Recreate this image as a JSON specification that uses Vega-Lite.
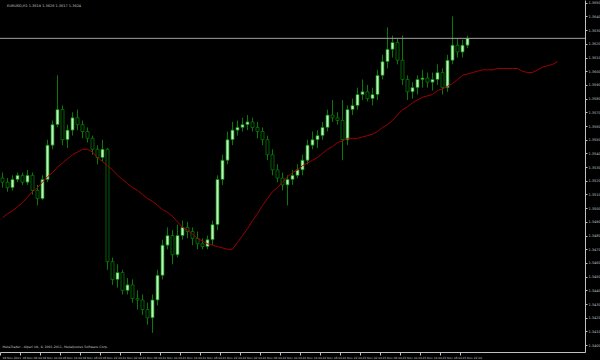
{
"$schema": "https://vega.github.io/schema/vega-lite/v6.json",
"width": 585, "height": 352,
"autosize": {"type": "none"},
"padding": {"left": 0, "top": 0, "right": 15, "bottom": 8},
"background": "#000000",
"config": {"view": {"stroke": null}, "font": "DejaVu Sans", "axis": {"labelOverlap": false, "labelBound": false, "labelFlush": false, "grid": false}},
"title": {"text": "EURUSD,H1  1.3619 1.3626 1.3617 1.3624", "anchor": "start", "orient": "top", "offset": -7, "dx": 7, "fontSize": 3.5, "fontWeight": "normal", "color": "#c0c0c0", "frame": "group"},
"data": {"values": [
{"t":"18 Nov 02:00","o":1.3522,"h":1.3526,"l":1.3515,"c":1.3519,"ma":1.3493},
{"t":"18 Nov 03:00","o":1.3519,"h":1.3522,"l":1.3512,"c":1.3515,"ma":1.3496},
{"t":"18 Nov 04:00","o":1.3515,"h":1.3524,"l":1.3513,"c":1.3521,"ma":1.3498},
{"t":"18 Nov 05:00","o":1.3521,"h":1.3526,"l":1.3519,"c":1.3524,"ma":1.3501},
{"t":"18 Nov 06:00","o":1.3524,"h":1.3526,"l":1.3517,"c":1.3519,"ma":1.3504},
{"t":"18 Nov 07:00","o":1.3519,"h":1.3528,"l":1.3517,"c":1.3524,"ma":1.3508},
{"t":"18 Nov 08:00","o":1.3524,"h":1.3526,"l":1.3510,"c":1.3513,"ma":1.3512},
{"t":"18 Nov 09:00","o":1.3513,"h":1.3517,"l":1.3502,"c":1.3507,"ma":1.3515},
{"t":"18 Nov 10:00","o":1.3507,"h":1.3524,"l":1.3506,"c":1.3521,"ma":1.3519},
{"t":"18 Nov 11:00","o":1.3521,"h":1.3550,"l":1.3519,"c":1.3546,"ma":1.3523},
{"t":"18 Nov 12:00","o":1.3546,"h":1.3564,"l":1.3543,"c":1.3561,"ma":1.3526},
{"t":"18 Nov 13:00","o":1.3561,"h":1.3597,"l":1.3559,"c":1.3572,"ma":1.3530},
{"t":"18 Nov 14:00","o":1.3572,"h":1.3575,"l":1.3546,"c":1.3550,"ma":1.3533},
{"t":"18 Nov 15:00","o":1.3550,"h":1.3561,"l":1.3544,"c":1.3557,"ma":1.3536},
{"t":"18 Nov 16:00","o":1.3557,"h":1.3570,"l":1.3553,"c":1.3566,"ma":1.3539},
{"t":"18 Nov 17:00","o":1.3566,"h":1.3572,"l":1.3557,"c":1.3561,"ma":1.3541},
{"t":"18 Nov 18:00","o":1.3561,"h":1.3564,"l":1.3551,"c":1.3556,"ma":1.3543},
{"t":"18 Nov 19:00","o":1.3556,"h":1.3559,"l":1.3548,"c":1.3551,"ma":1.3543},
{"t":"18 Nov 20:00","o":1.3551,"h":1.3553,"l":1.3539,"c":1.3543,"ma":1.3541},
{"t":"18 Nov 21:00","o":1.3543,"h":1.3546,"l":1.3532,"c":1.3537,"ma":1.3537},
{"t":"18 Nov 22:00","o":1.3537,"h":1.3550,"l":1.3534,"c":1.3543,"ma":1.3534},
{"t":"18 Nov 23:00","o":1.3543,"h":1.3544,"l":1.3455,"c":1.3461,"ma":1.3531},
{"t":"21 Nov 00:00","o":1.3461,"h":1.3464,"l":1.3444,"c":1.3448,"ma":1.3528},
{"t":"21 Nov 01:00","o":1.3448,"h":1.3459,"l":1.3442,"c":1.3453,"ma":1.3524},
{"t":"21 Nov 02:00","o":1.3453,"h":1.3455,"l":1.3437,"c":1.3440,"ma":1.3521},
{"t":"21 Nov 03:00","o":1.3440,"h":1.3449,"l":1.3437,"c":1.3444,"ma":1.3518},
{"t":"21 Nov 04:00","o":1.3444,"h":1.3448,"l":1.3431,"c":1.3434,"ma":1.3515},
{"t":"21 Nov 05:00","o":1.3434,"h":1.3440,"l":1.3426,"c":1.3433,"ma":1.3513},
{"t":"21 Nov 06:00","o":1.3433,"h":1.3437,"l":1.3422,"c":1.3426,"ma":1.3510},
{"t":"21 Nov 07:00","o":1.3426,"h":1.3431,"l":1.3415,"c":1.3420,"ma":1.3507},
{"t":"21 Nov 08:00","o":1.3420,"h":1.3437,"l":1.3409,"c":1.3433,"ma":1.3505},
{"t":"21 Nov 09:00","o":1.3433,"h":1.3455,"l":1.3429,"c":1.3451,"ma":1.3502},
{"t":"21 Nov 10:00","o":1.3451,"h":1.3477,"l":1.3448,"c":1.3473,"ma":1.3499},
{"t":"21 Nov 11:00","o":1.3473,"h":1.3486,"l":1.3470,"c":1.3480,"ma":1.3497},
{"t":"21 Nov 12:00","o":1.3480,"h":1.3484,"l":1.3459,"c":1.3466,"ma":1.3494},
{"t":"21 Nov 13:00","o":1.3466,"h":1.3488,"l":1.3464,"c":1.3480,"ma":1.3490},
{"t":"21 Nov 14:00","o":1.3480,"h":1.3491,"l":1.3477,"c":1.3486,"ma":1.3486},
{"t":"21 Nov 15:00","o":1.3486,"h":1.3490,"l":1.3478,"c":1.3483,"ma":1.3484},
{"t":"21 Nov 16:00","o":1.3483,"h":1.3486,"l":1.3473,"c":1.3478,"ma":1.3481},
{"t":"21 Nov 17:00","o":1.3478,"h":1.3483,"l":1.3470,"c":1.3474,"ma":1.3478},
{"t":"21 Nov 18:00","o":1.3474,"h":1.3478,"l":1.3470,"c":1.3472,"ma":1.3476},
{"t":"21 Nov 19:00","o":1.3472,"h":1.3480,"l":1.3470,"c":1.3477,"ma":1.3474},
{"t":"21 Nov 20:00","o":1.3477,"h":1.3491,"l":1.3473,"c":1.3488,"ma":1.3473},
{"t":"21 Nov 21:00","o":1.3488,"h":1.3524,"l":1.3484,"c":1.3521,"ma":1.3472},
{"t":"21 Nov 22:00","o":1.3521,"h":1.3539,"l":1.3517,"c":1.3535,"ma":1.3471},
{"t":"21 Nov 23:00","o":1.3535,"h":1.3556,"l":1.3532,"c":1.3550,"ma":1.3470},
{"t":"22 Nov 00:00","o":1.3550,"h":1.3563,"l":1.3546,"c":1.3557,"ma":1.3470},
{"t":"22 Nov 01:00","o":1.3557,"h":1.3564,"l":1.3553,"c":1.3559,"ma":1.3475},
{"t":"22 Nov 02:00","o":1.3559,"h":1.3566,"l":1.3556,"c":1.3561,"ma":1.3480},
{"t":"22 Nov 03:00","o":1.3561,"h":1.3568,"l":1.3557,"c":1.3563,"ma":1.3485},
{"t":"22 Nov 04:00","o":1.3563,"h":1.3566,"l":1.3556,"c":1.3559,"ma":1.3491},
{"t":"22 Nov 05:00","o":1.3559,"h":1.3563,"l":1.3551,"c":1.3556,"ma":1.3496},
{"t":"22 Nov 06:00","o":1.3556,"h":1.3559,"l":1.3546,"c":1.3550,"ma":1.3502},
{"t":"22 Nov 07:00","o":1.3550,"h":1.3553,"l":1.3535,"c":1.3539,"ma":1.3507},
{"t":"22 Nov 08:00","o":1.3539,"h":1.3543,"l":1.3524,"c":1.3528,"ma":1.3512},
{"t":"22 Nov 09:00","o":1.3528,"h":1.3532,"l":1.3519,"c":1.3522,"ma":1.3515},
{"t":"22 Nov 10:00","o":1.3522,"h":1.3526,"l":1.3513,"c":1.3517,"ma":1.3519},
{"t":"22 Nov 11:00","o":1.3517,"h":1.3524,"l":1.3502,"c":1.3521,"ma":1.3523},
{"t":"22 Nov 12:00","o":1.3521,"h":1.3528,"l":1.3517,"c":1.3524,"ma":1.3526},
{"t":"22 Nov 13:00","o":1.3524,"h":1.3532,"l":1.3522,"c":1.3528,"ma":1.3528},
{"t":"22 Nov 14:00","o":1.3528,"h":1.3539,"l":1.3524,"c":1.3535,"ma":1.3531},
{"t":"22 Nov 15:00","o":1.3535,"h":1.3550,"l":1.3532,"c":1.3546,"ma":1.3533},
{"t":"22 Nov 16:00","o":1.3546,"h":1.3556,"l":1.3543,"c":1.3550,"ma":1.3535},
{"t":"22 Nov 17:00","o":1.3550,"h":1.3557,"l":1.3544,"c":1.3553,"ma":1.3537},
{"t":"22 Nov 18:00","o":1.3553,"h":1.3563,"l":1.3550,"c":1.3559,"ma":1.3540},
{"t":"22 Nov 19:00","o":1.3559,"h":1.3572,"l":1.3556,"c":1.3568,"ma":1.3543},
{"t":"22 Nov 20:00","o":1.3568,"h":1.3579,"l":1.3563,"c":1.3566,"ma":1.3545},
{"t":"22 Nov 21:00","o":1.3566,"h":1.3570,"l":1.3561,"c":1.3564,"ma":1.3548},
{"t":"22 Nov 22:00","o":1.3564,"h":1.3579,"l":1.3535,"c":1.3550,"ma":1.3549},
{"t":"22 Nov 23:00","o":1.3550,"h":1.3575,"l":1.3546,"c":1.3572,"ma":1.3551},
{"t":"23 Nov 00:00","o":1.3572,"h":1.3580,"l":1.3568,"c":1.3575,"ma":1.3551},
{"t":"23 Nov 01:00","o":1.3575,"h":1.3588,"l":1.3572,"c":1.3583,"ma":1.3551},
{"t":"23 Nov 02:00","o":1.3583,"h":1.3594,"l":1.3579,"c":1.3585,"ma":1.3552},
{"t":"23 Nov 03:00","o":1.3585,"h":1.3590,"l":1.3578,"c":1.3580,"ma":1.3553},
{"t":"23 Nov 04:00","o":1.3580,"h":1.3588,"l":1.3575,"c":1.3583,"ma":1.3554},
{"t":"23 Nov 05:00","o":1.3583,"h":1.3601,"l":1.3579,"c":1.3597,"ma":1.3556},
{"t":"23 Nov 06:00","o":1.3597,"h":1.3612,"l":1.3594,"c":1.3607,"ma":1.3559},
{"t":"23 Nov 07:00","o":1.3607,"h":1.3632,"l":1.3602,"c":1.3616,"ma":1.3561},
{"t":"23 Nov 08:00","o":1.3616,"h":1.3626,"l":1.3610,"c":1.3621,"ma":1.3564},
{"t":"23 Nov 09:00","o":1.3621,"h":1.3624,"l":1.3605,"c":1.3608,"ma":1.3568},
{"t":"23 Nov 10:00","o":1.3608,"h":1.3626,"l":1.3590,"c":1.3594,"ma":1.3572},
{"t":"23 Nov 11:00","o":1.3594,"h":1.3597,"l":1.3579,"c":1.3585,"ma":1.3574},
{"t":"23 Nov 12:00","o":1.3585,"h":1.3592,"l":1.3580,"c":1.3588,"ma":1.3577},
{"t":"23 Nov 13:00","o":1.3588,"h":1.3597,"l":1.3583,"c":1.3594,"ma":1.3579},
{"t":"23 Nov 14:00","o":1.3594,"h":1.3601,"l":1.3588,"c":1.3595,"ma":1.3581},
{"t":"23 Nov 15:00","o":1.3595,"h":1.3599,"l":1.3588,"c":1.3592,"ma":1.3582},
{"t":"23 Nov 16:00","o":1.3592,"h":1.3599,"l":1.3586,"c":1.3594,"ma":1.3583},
{"t":"23 Nov 17:00","o":1.3594,"h":1.3605,"l":1.3590,"c":1.3599,"ma":1.3586},
{"t":"23 Nov 18:00","o":1.3599,"h":1.3602,"l":1.3583,"c":1.3588,"ma":1.3587},
{"t":"23 Nov 19:00","o":1.3588,"h":1.3612,"l":1.3585,"c":1.3608,"ma":1.3589},
{"t":"23 Nov 20:00","o":1.3608,"h":1.3640,"l":1.3605,"c":1.3619,"ma":1.3591},
{"t":"23 Nov 21:00","o":1.3619,"h":1.3624,"l":1.3610,"c":1.3614,"ma":1.3594},
{"t":"23 Nov 22:00","o":1.3614,"h":1.3623,"l":1.3610,"c":1.3619,"ma":1.3597},
{"t":"23 Nov 23:00","o":1.3619,"h":1.3626,"l":1.3617,"c":1.3624,"ma":1.3598},
{"t":"24 Nov 00:00","ma":1.3599},
{"t":"24 Nov 01:00","ma":1.3600},
{"t":"24 Nov 02:00","ma":1.3601},
{"t":"24 Nov 03:00","ma":1.3601},
{"t":"24 Nov 04:00","ma":1.3601},
{"t":"24 Nov 05:00","ma":1.3602},
{"t":"24 Nov 06:00","ma":1.3602},
{"t":"24 Nov 07:00","ma":1.3602},
{"t":"24 Nov 08:00","ma":1.3602},
{"t":"24 Nov 09:00","ma":1.3602},
{"t":"24 Nov 10:00","ma":1.3600},
{"t":"24 Nov 11:00","ma":1.3599},
{"t":"24 Nov 12:00","ma":1.3599},
{"t":"24 Nov 13:00","ma":1.3601},
{"t":"24 Nov 14:00","ma":1.3603},
{"t":"24 Nov 15:00","ma":1.3604},
{"t":"24 Nov 16:00","ma":1.3605},
{"t":"24 Nov 17:00","ma":1.3607},
{"t":"24 Nov 18:00"},
{"t":"24 Nov 19:00"},
{"t":"24 Nov 20:00"},
{"t":"24 Nov 21:00"},
{"t":"24 Nov 22:00"}
]},
"layer": [
{
"mark": {"type": "rule", "color": "#087a08", "strokeWidth": 1},
"encoding": {
"x": {"field": "t", "type": "ordinal", "sort": null, "scale": {"paddingInner": 0, "paddingOuter": 0},
"axis": {"title": null, "values": ["18 Nov 02:00","18 Nov 06:00","18 Nov 10:00","18 Nov 14:00","18 Nov 18:00","18 Nov 22:00","21 Nov 02:00","21 Nov 06:00","21 Nov 10:00","21 Nov 14:00","21 Nov 18:00","21 Nov 22:00","22 Nov 02:00","22 Nov 06:00","22 Nov 10:00","22 Nov 14:00","22 Nov 18:00","22 Nov 22:00","23 Nov 02:00","23 Nov 06:00","23 Nov 10:00","23 Nov 14:00","23 Nov 18:00","23 Nov 22:00"],
"labelExpr": "datum.value == '18 Nov 02:00' ? '18 Nov 2011' : datum.value",
"labelAngle": 0, "labelAlign": "left", "labelBaseline": "top", "labelFontSize": 2.9, "labelColor": "#c0c0c0", "labelPadding": 1, "labelDx": 1, "labelOverlap": false, "labelBound": false, "tickCount": 50,
"tickSize": 3, "tickColor": "#c0c0c0", "domainColor": "#c0c0c0", "bandPosition": 0, "grid": false}},
"y": {"field": "l", "type": "quantitative", "scale": {"domain": [1.3395, 1.3652], "nice": false, "zero": false},
"axis": {"title": null, "orient": "right", "values": [1.340,1.341,1.342,1.343,1.344,1.345,1.346,1.347,1.348,1.349,1.350,1.351,1.352,1.353,1.354,1.355,1.356,1.357,1.358,1.359,1.360,1.361,1.362,1.363,1.364,1.365], "tickCount": 50, "format": ".4f", "labelFontSize": 3.5, "labelColor": "#c0c0c0", "labelPadding": 1, "tickSize": 2, "tickColor": "#c0c0c0", "domainColor": "#c0c0c0", "grid": false, "labelOverlap": false, "labelBound": false}},
"y2": {"field": "h"}
}
},
{
"mark": {"type": "bar", "stroke": "#087a08", "strokeWidth": 0.8, "width": 3},
"encoding": {
"x": {"field": "t", "type": "ordinal", "sort": null},
"y": {"field": "o", "type": "quantitative"},
"y2": {"field": "c"},
"fill": {"condition": {"test": "datum.c > datum.o", "value": "#b8f5b8"}, "value": "#000000"}
}
},
{
"mark": {"type": "line", "color": "#a00000", "strokeWidth": 1},
"encoding": {
"x": {"field": "t", "type": "ordinal", "sort": null},
"y": {"field": "ma", "type": "quantitative"}
}
},
{
"data": {"values": [{"p": 1.3624}]},
"mark": {"type": "rule", "color": "#a0a0a0", "strokeWidth": 1},
"encoding": {"y": {"field": "p", "type": "quantitative"}}
},
{
"data": {"values": [{"t": "18 Nov 02:00", "p": 1.3399, "txt": "MetaTrader - Alpari UK, © 2001-2011, MetaQuotes Software Corp."}]},
"mark": {"type": "text", "align": "left", "baseline": "middle", "fontSize": 3.2, "color": "#c0c0c0"},
"encoding": {
"x": {"field": "t", "type": "ordinal", "sort": null},
"y": {"field": "p", "type": "quantitative"},
"text": {"field": "txt"}
}
}
]
}
